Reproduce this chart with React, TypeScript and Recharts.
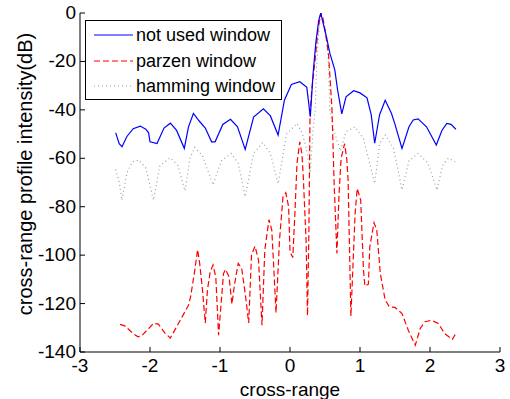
import { LineChart, Line, XAxis, YAxis } from 'recharts';

// not used window (x, dB)
const plainX = [-2.49, -2.44, -2.4, -2.33, -2.24, -2.14, -2.06, -2.02, -2.0, -1.9, -1.8, -1.71, -1.62, -1.51, -1.45, -1.38, -1.3, -1.21, -1.12, -1.07, -0.96, -0.85, -0.75, -0.64, -0.52, -0.38, -0.28, -0.17, -0.08, 0.02, 0.14, 0.24, 0.29, 0.33, 0.37, 0.41, 0.44, 0.48, 0.52, 0.57, 0.64, 0.68, 0.74, 0.8, 0.91, 1.0, 1.1, 1.16, 1.21, 1.28, 1.36, 1.45, 1.5, 1.6, 1.7, 1.76, 1.83, 1.95, 2.09, 2.17, 2.24, 2.3, 2.37];
const plainY = [-49.5, -54, -55.2, -51, -47.8, -46.7, -48, -49.5, -53.2, -53.9, -47.5, -45.5, -48.5, -55.9, -47, -41.5, -44.5, -47.5, -53.2, -53.2, -46, -43.9, -47, -56.3, -43, -39.6, -42.5, -50.4, -36, -29.5, -28.4, -30.7, -42.8, -25, -12, -3, 0, -5, -9.8, -16.7, -23.5, -31.8, -41.7, -34.6, -32.1, -33, -35, -42, -53.8, -42, -36, -41.5, -46, -55.9, -47, -44.2, -43.7, -47, -54.5, -48.5, -45.6, -46, -48];

// parzen window
const parzenX = [-2.43, -2.36, -2.24, -2.17, -2.12, -1.95, -1.88, -1.79, -1.71, -1.62, -1.45, -1.42, -1.36, -1.32, -1.29, -1.25, -1.21, -1.18, -1.14, -1.1, -1.06, -1.02, -0.95, -0.92, -0.87, -0.83, -0.79, -0.74, -0.69, -0.64, -0.59, -0.55, -0.5, -0.45, -0.4, -0.36, -0.3, -0.26, -0.23, -0.2, -0.15, -0.1, -0.06, -0.02, 0.0, 0.04, 0.07, 0.1, 0.14, 0.17, 0.19, 0.23, 0.25, 0.27, 0.286, 0.31, 0.36, 0.4, 0.44, 0.47, 0.5, 0.55, 0.57, 0.6, 0.63, 0.67, 0.7, 0.73, 0.78, 0.81, 0.83, 0.87, 0.93, 0.96, 1.01, 1.05, 1.07, 1.12, 1.14, 1.2, 1.24, 1.29, 1.36, 1.42, 1.5, 1.6, 1.69, 1.79, 1.86, 1.93, 2.02, 2.12, 2.21, 2.32, 2.38];
const parzenY = [-128.6, -129.2, -132.4, -133.7, -133.3, -128.2, -128.5, -132.1, -134.2, -129.6, -120.7, -117.2, -106.2, -97.7, -103.4, -114.5, -128, -114.5, -106.9, -104.1, -109, -133.1, -107.6, -105.9, -109, -120.2, -111.7, -103.4, -105.5, -115.8, -128, -100, -96.3, -102, -128.9, -97.9, -85.3, -89.7, -106.2, -123.8, -93.8, -75.9, -74.2, -80, -98.6, -101, -82.8, -62, -53.2, -58, -67.6, -94, -125, -90, -42, -32, -19, -7, 0, -2, -7, -17, -26, -40, -70, -99.3, -75, -60, -54, -60, -69, -125.2, -82.8, -72.5, -77.3, -106.2, -112.8, -112, -96.6, -86.6, -89.7, -107.6, -118.6, -121.3, -121.6, -124.1, -131, -137.2, -130.3, -127.5, -126.9, -128.2, -132.4, -134.8, -131.7];

// hamming window
const hammingX = [-2.49, -2.44, -2.4, -2.33, -2.25, -2.16, -2.06, -1.95, -1.86, -1.71, -1.6, -1.5, -1.43, -1.36, -1.25, -1.1, -0.98, -0.84, -0.74, -0.64, -0.52, -0.39, -0.28, -0.17, -0.05, 0.1, 0.18, 0.24, 0.29, 0.33, 0.36, 0.38, 0.41, 0.44, 0.49, 0.53, 0.55, 0.57, 0.62, 0.72, 0.8, 0.93, 1.05, 1.21, 1.28, 1.36, 1.48, 1.6, 1.7, 1.83, 1.97, 2.1, 2.18, 2.26, 2.36];
const hammingY = [-64.6, -70, -77.3, -66, -61.5, -60.7, -64, -77.3, -63, -59.8, -63, -73.5, -60, -55.5, -59, -71, -61, -58, -62, -75.9, -58, -53.5, -58, -70.5, -50, -45.6, -50, -57, -66, -48, -40, -22, -8, 0, -5, -11, -22, -40, -48, -57, -49, -47, -52, -70.4, -54, -50.4, -56, -73.1, -61, -58, -62, -73.1, -63, -60, -61.4];

const xTicks = [-3, -2, -1, 0, 1, 2, 3];
const yTicks = [0, -20, -40, -60, -80, -100, -120, -140];

const toPoints = (xs: number[], ys: number[]) => xs.map((x, i) => ({ x, y: ys[i] }));
const plainData = toPoints(plainX, plainY);
const parzenData = toPoints(parzenX, parzenY);
const hammingData = toPoints(hammingX, hammingY);

const FONT = '"Liberation Sans", Arial, sans-serif';
const BLUE = '#0000ff';
const RED = '#ff0000';
const GRAY = '#8aa8a2';

const BottomTick = (props: any) => {
  const { x, y, payload } = props;
  return (
    <g>
      <line x1={x} y1={y} x2={x} y2={y - 5} stroke="#000" />
      <text x={x} y={y + 20} textAnchor="middle" fontSize={19} fontFamily={FONT} fill="#000">
        {payload.value}
      </text>
    </g>
  );
};

const TopTick = (props: any) => {
  const { x, y } = props;
  return <line x1={x} y1={y} x2={x} y2={y + 5} stroke="#000" />;
};

const LeftTick = (props: any) => {
  const { x, y, payload } = props;
  return (
    <g>
      <line x1={x} y1={y} x2={x + 5} y2={y} stroke="#000" />
      <text x={x - 4} y={y + 6} textAnchor="end" fontSize={19} fontFamily={FONT} fill="#000">
        {payload.value}
      </text>
    </g>
  );
};

const RightTick = (props: any) => {
  const { x, y } = props;
  return <line x1={x} y1={y} x2={x - 5} y2={y} stroke="#000" />;
};

// y-axis title, placed like the MATLAB one
const YTitle = () => (
  <text
    x={25}
    y={174}
    transform="rotate(-90, 25, 174)"
    textAnchor="middle"
    dominantBaseline="central"
    fontSize={20}
    fontFamily={FONT}
    fill="#000"
  >
    cross-range profile intensity(dB)
  </text>
);

const legendRows = [
  { label: 'not used window', color: BLUE, dash: undefined as string | undefined, y: 14 },
  { label: 'parzen window', color: RED, dash: '6 3', y: 40 },
  { label: 'hamming window', color: GRAY, dash: '1 3', y: 65 },
];

export default function App() {
  return (
    <div style={{ position: 'relative', width: 510, height: 399, background: '#fff' }}>
      <style>{'body{margin:0}'}</style>
      <LineChart width={510} height={399} margin={{ top: 13, right: 10, left: 0, bottom: 0 }}>
        <XAxis
          dataKey="x"
          type="number"
          domain={[-3, 3]}
          ticks={xTicks}
          interval={0}
          allowDataOverflow
          height={47}
          tickSize={0}
          tickMargin={0}
          tickLine={false}
          axisLine={{ stroke: '#000' }}
          tick={<BottomTick />}
          label={{ value: 'cross-range', position: 'insideBottom', offset: 3, fontSize: 19, fontFamily: FONT, fill: '#000' }}
        />
        <XAxis
          xAxisId="top"
          orientation="top"
          dataKey="x"
          type="number"
          domain={[-3, 3]}
          ticks={xTicks}
          interval={0}
          allowDataOverflow
          height={0}
          tickSize={0}
          tickMargin={0}
          tickLine={false}
          axisLine={{ stroke: '#000' }}
          tick={<TopTick />}
        />
        <YAxis
          type="number"
          domain={[-140, 0]}
          ticks={yTicks}
          interval={0}
          allowDataOverflow
          width={80}
          tickSize={0}
          tickMargin={0}
          tickLine={false}
          axisLine={{ stroke: '#000' }}
          tick={<LeftTick />}
          label={<YTitle />}
        />
        <YAxis
          yAxisId="right"
          orientation="right"
          type="number"
          domain={[-140, 0]}
          ticks={yTicks}
          interval={0}
          allowDataOverflow
          width={0}
          tickSize={0}
          tickMargin={0}
          tickLine={false}
          axisLine={{ stroke: '#000' }}
          tick={<RightTick />}
        />
        <Line data={hammingData} dataKey="y" stroke={GRAY} strokeWidth={1.2} strokeDasharray="1 3" dot={false} isAnimationActive={false} type="linear" />
        <Line data={parzenData} dataKey="y" stroke={RED} strokeWidth={1.2} strokeDasharray="6 3" dot={false} isAnimationActive={false} type="linear" />
        <Line data={plainData} dataKey="y" stroke={BLUE} strokeWidth={1.2} dot={false} isAnimationActive={false} type="linear" />
      </LineChart>
      <div style={{ position: 'absolute', left: 85, top: 20, width: 195, height: 78, border: '1px solid #000', background: '#fff' }}>
        <svg width={195} height={78}>
          {legendRows.map((r) => (
            <g key={r.label}>
              <line x1={8} y1={r.y} x2={47} y2={r.y} stroke={r.color} strokeWidth={1.2} strokeDasharray={r.dash} />
              <text x={50} y={r.y + 6} fontSize={18} fontFamily={FONT} fill="#000">{r.label}</text>
            </g>
          ))}
        </svg>
      </div>
    </div>
  );
}
